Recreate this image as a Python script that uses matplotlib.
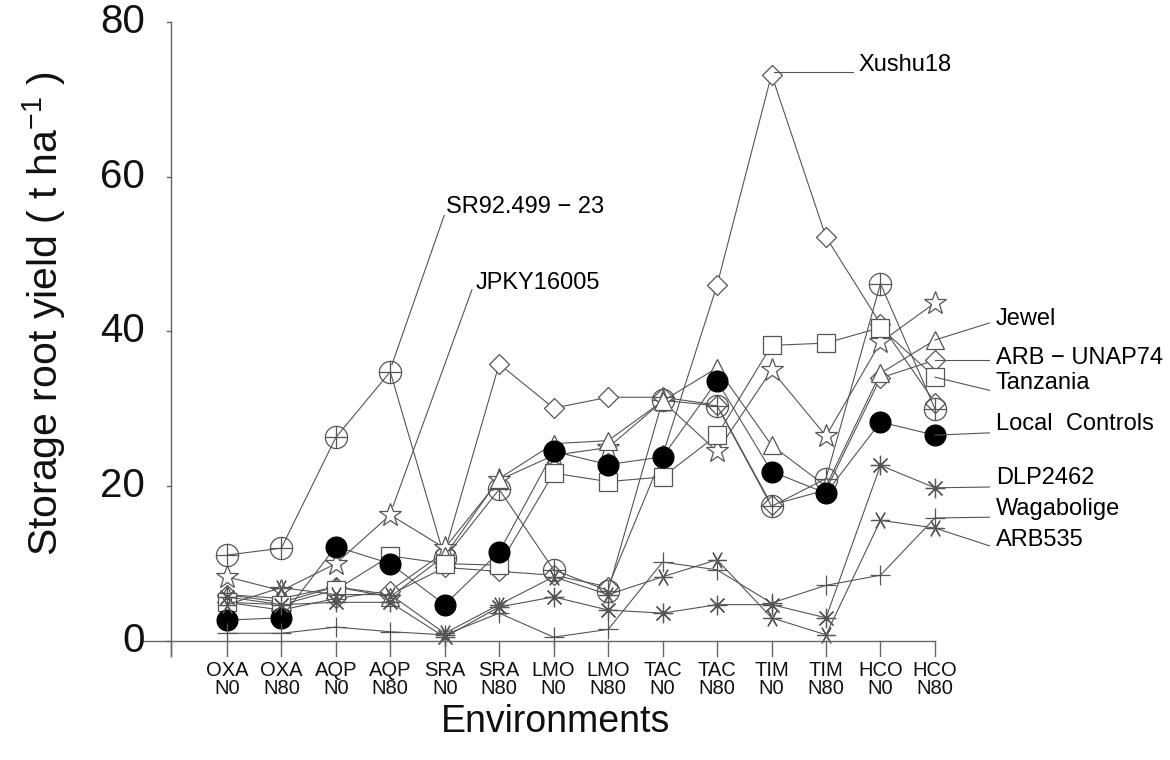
import matplotlib
matplotlib.use("Agg")
import matplotlib.pyplot as plt
from matplotlib.path import Path
import numpy as np

plt.rcParams['font.family'] = ['Liberation Sans', 'DejaVu Sans']

environments = ["OXA\nN0", "OXA\nN80", "AQP\nN0", "AQP\nN80", "SRA\nN0", "SRA\nN80",
                "LMO\nN0", "LMO\nN80", "TAC\nN0", "TAC\nN80", "TIM\nN0", "TIM\nN80",
                "HCO\nN0", "HCO\nN80"]

xushu18     = [6.0, 5.0, 7.0, 6.0, 9.5, 9.0, 8.5, 7.0, 24.0, 46.0, 73.2, 52.2, 41.0, 30.8]
sr92        = [11.1, 12.0, 26.3, 34.8, 10.7, 19.6, 9.2, 6.5, 31.1, 30.4, 17.4, 21.0, 46.2, 30.0]
jpky16005   = [8.3, 6.5, 10.0, 16.3, 12.0, 20.8, 24.0, 25.0, 31.0, 24.5, 35.0, 26.5, 38.6, 43.7]
jewel       = [6.0, 5.5, 7.0, 5.7, 11.0, 21.0, 25.5, 25.9, 31.0, 35.3, 25.3, 20.0, 34.6, 38.9]
arb_unap74  = [5.0, 4.0, 5.5, 6.5, 11.5, 35.8, 30.1, 31.5, 31.5, 30.5, 17.6, 19.5, 34.0, 36.3]
tanzania    = [5.0, 4.7, 6.6, 11.0, 10.0, 9.8, 21.7, 20.6, 21.2, 26.6, 38.2, 38.5, 40.5, 34.1]
local_ctrl  = [2.7, 3.0, 12.2, 10.0, 4.7, 11.5, 24.5, 22.8, 23.8, 33.6, 21.9, 19.1, 28.3, 26.6]
dlp2462     = [5.7, 4.7, 5.0, 5.0, 0.5, 4.4, 5.7, 4.0, 3.6, 4.7, 4.7, 3.0, 22.7, 19.8]
wagabolige  = [1.0, 1.0, 1.8, 1.2, 0.8, 3.6, 0.5, 1.5, 10.2, 9.2, 4.9, 7.2, 8.5, 15.9]
arb535      = [4.7, 6.9, 6.0, 6.0, 1.0, 4.7, 8.3, 6.0, 8.3, 10.5, 3.0, 0.8, 15.6, 14.6]

yticks = [0, 20, 40, 60, 80]

# custom circle-with-plus marker
circ = Path.unit_circle()
plus_h = Path([[-1, 0], [1, 0]], [Path.MOVETO, Path.LINETO])
plus_v = Path([[0, -1], [0, 1]], [Path.MOVETO, Path.LINETO])
circle_plus = Path.make_compound_path(circ, plus_h, plus_v)

LC = '#555555'
series = [
    (xushu18, dict(marker='D', ms=10, mfc='white')),
    (arb_unap74, dict(marker='D', ms=10, mfc='white')),
    (sr92, dict(marker=circle_plus, ms=16, mfc='none')),
    (jpky16005, dict(marker='*', ms=17, mfc='white')),
    (jewel, dict(marker='^', ms=13, mfc='white')),
    (tanzania, dict(marker='s', ms=13, mfc='white')),
    (local_ctrl, dict(marker='o', ms=15, mfc='black', mec='black')),
    (dlp2462, dict(marker=(8, 2, 0), ms=14, mfc='none')),
    (wagabolige, dict(marker='+', ms=15, mfc='none')),
    (arb535, dict(marker=(6, 2, 30), ms=13, mfc='none')),
]

fig = plt.figure(figsize=(11.7, 7.6), dpi=100)
ax = fig.add_axes([0.1222, 0.1362, 0.6769, 0.8349])
x = np.arange(len(environments))
ax.set_xlim(-1.54, 13.0)
ax.set_ylim(-2, 80)

for vals, kw in series:
    style = dict(color=LC, lw=0.8, mec=kw.pop('mec', LC), mew=0.9, clip_on=False)
    style.update(kw)
    ax.plot(x, vals, **style)

for s in ax.spines.values():
    s.set_visible(False)

# axes lines
AC = '#666666'
ax.plot([-1.54, 13.0], [0, 0], color=AC, lw=1.0, clip_on=False)
ax.plot([-1.03, -1.03], [-2, 80], color=AC, lw=1.0, clip_on=False)
for xi in list(x) + [-1.03]:
    ax.plot([xi, xi], [0, -1.9], color=AC, lw=1.0, clip_on=False)
for yv in yticks:
    ax.plot([-1.1, -1.03], [yv, yv], color=AC, lw=1.0, clip_on=False)

ax.set_xticks([])
ax.set_yticks([])
for yv in yticks:
    ax.text(-1.5, yv, str(yv), ha='right', va='center', fontsize=29, color='#111111')
for xi, lab in zip(x, environments):
    ax.text(xi, -2.6, lab, ha='center', va='top', fontsize=14.5, linespacing=0.95, color='#111111')

fig.text(0.4745, 0.05, 'Environments', ha='center', va='center', fontsize=27, color='#111111')
fig.text(0.038, 0.588, r'Storage root yield ( t ha$^{\mathregular{-1}}$ )', rotation=90,
         ha='center', va='center', fontsize=29.5, color='#111111')

# labels with leader lines
lab_fs = 17
ax.plot([10.05, 11.5], [73.5, 73.5], color=LC, lw=0.8, clip_on=False)
ax.text(11.6, 74.4, 'Xushu18', ha='left', va='center', fontsize=lab_fs)
ax.plot([3.99, 3.03], [55.0, 35.7], color=LC, lw=0.8, clip_on=False)
ax.text(4.03, 56.1, 'SR92.499 \u2212 23', ha='left', va='center', fontsize=lab_fs)
ax.plot([4.5, 3.05], [45.4, 17.4], color=LC, lw=0.8, clip_on=False)
ax.text(4.57, 46.3, 'JPKY16005', ha='left', va='center', fontsize=lab_fs)

right_labels = [
    ('Jewel', jewel[-1], 41.1, 41.6),
    ('ARB \u2212 UNAP74', arb_unap74[-1], 36.3, 36.6),
    ('Tanzania', tanzania[-1], 32.4, 33.3),
    ('Local  Controls', local_ctrl[-1], 26.9, 28.0),
    ('DLP2462', dlp2462[-1], 19.9, 21.1),
    ('Wagabolige', wagabolige[-1], 16.0, 17.1),
    ('ARB535', arb535[-1], 12.3, 13.0),
]
for name, yend, ylead, ytext in right_labels:
    ax.plot([13.0, 14.0], [yend, ylead], color=LC, lw=0.8, clip_on=False)
    ax.text(14.12, ytext, name, ha='left', va='center', fontsize=lab_fs)

fig.savefig('out.png', dpi=100, facecolor='white')
